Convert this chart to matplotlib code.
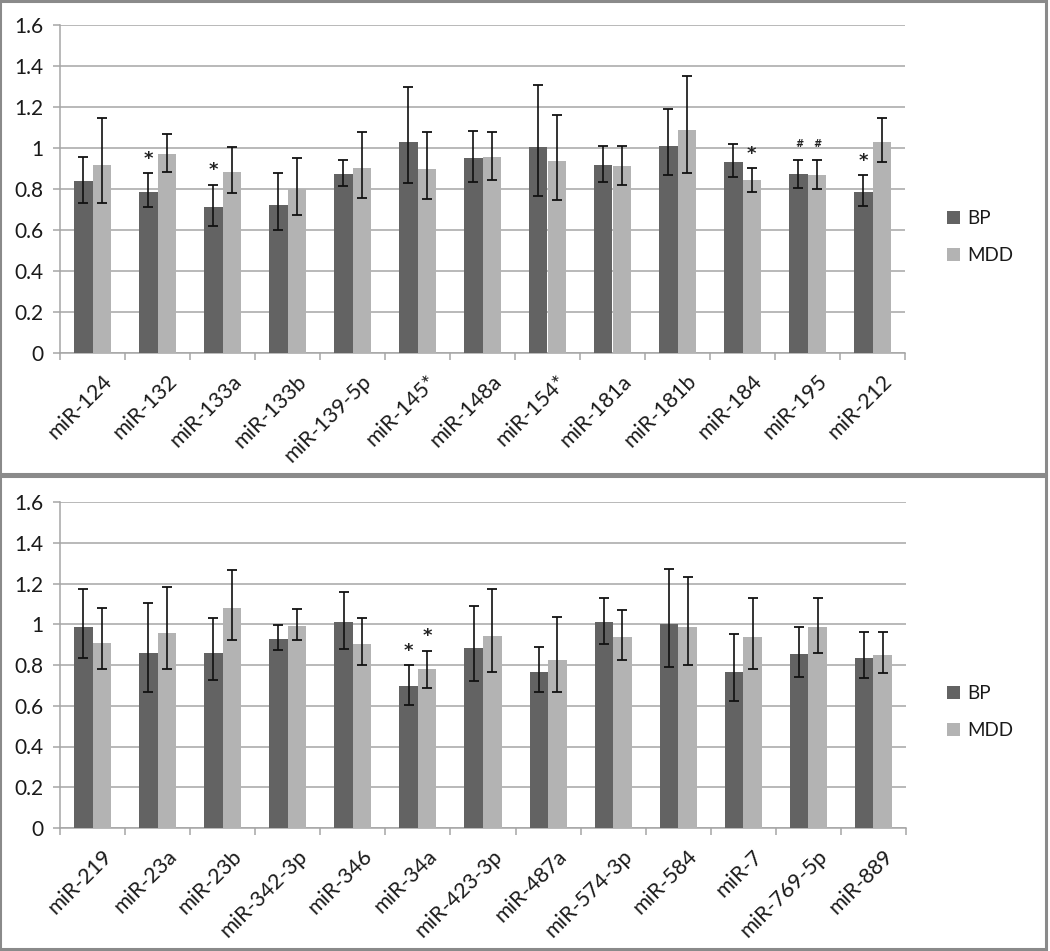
import matplotlib
matplotlib.use("Agg")
import matplotlib.pyplot as plt
import matplotlib.transforms as mtransforms
import numpy as np
from matplotlib.patches import Rectangle

plt.rcParams['font.family'] = ['Lato', 'DejaVu Sans']

# ---------------- data ----------------
cats_top = ["miR-124", "miR-132", "miR-133a", "miR-133b", "miR-139-5p", "miR-145*",
            "miR-148a", "miR-154*", "miR-181a", "miR-181b", "miR-184", "miR-195", "miR-212"]
bp_top = [0.837, 0.785, 0.712, 0.722, 0.873, 1.029, 0.950, 1.003, 0.915, 1.010, 0.930, 0.873, 0.785]
bp_top_hi = [0.956, 0.878, 0.821, 0.878, 0.943, 1.298, 1.085, 1.307, 1.008, 1.190, 1.018, 0.943, 0.867]
bp_top_lo = [0.732, 0.711, 0.621, 0.602, 0.815, 0.828, 0.836, 0.764, 0.836, 0.867, 0.857, 0.803, 0.715]
mdd_top = [0.915, 0.972, 0.883, 0.798, 0.904, 0.899, 0.956, 0.935, 0.911, 1.086, 0.842, 0.868, 1.029]
mdd_top_hi = [1.148, 1.070, 1.003, 0.950, 1.080, 1.080, 1.080, 1.163, 1.008, 1.350, 0.902, 0.943, 1.148]
mdd_top_lo = [0.732, 0.881, 0.779, 0.673, 0.758, 0.751, 0.846, 0.748, 0.821, 0.876, 0.785, 0.798, 0.930]
marks_top = [(1, "BP", "*"), (2, "BP", "*"), (10, "MDD", "*"), (11, "BP", "#"),
             (11, "MDD", "#"), (12, "BP", "*")]

cats_bot = ["miR-219", "miR-23a", "miR-23b", "miR-342-3p", "miR-346", "miR-34a",
            "miR-423-3p", "miR-487a", "miR-574-3p", "miR-584", "miR-7", "miR-769-5p", "miR-889"]
bp_bot = [0.988, 0.857, 0.857, 0.929, 1.009, 0.696, 0.883, 0.767, 1.009, 1.001, 0.767, 0.852, 0.836]
bp_bot_hi = [1.174, 1.102, 1.030, 0.998, 1.158, 0.798, 1.091, 0.888, 1.127, 1.273, 0.950, 0.988, 0.960]
bp_bot_lo = [0.836, 0.669, 0.727, 0.872, 0.878, 0.606, 0.722, 0.668, 0.904, 0.789, 0.622, 0.741, 0.736]
mdd_bot = [0.909, 0.957, 1.081, 0.993, 0.904, 0.779, 0.940, 0.824, 0.936, 0.988, 0.936, 0.988, 0.847]
mdd_bot_hi = [1.081, 1.185, 1.264, 1.074, 1.029, 0.870, 1.174, 1.038, 1.069, 1.233, 1.131, 1.131, 0.960]
mdd_bot_lo = [0.779, 0.779, 0.924, 0.924, 0.798, 0.689, 0.764, 0.668, 0.826, 0.798, 0.782, 0.860, 0.762]
marks_bot = [(5, "BP", "*"), (5, "MDD", "*")]

series = ["BP", "MDD"]
colors = {"BP": "#636363", "MDD": "#b3b3b3"}
yticks = [0, 0.2, 0.4, 0.6, 0.8, 1, 1.2, 1.4, 1.6]
ytick_labels = ["0", "0.2", "0.4", "0.6", "0.8", "1", "1.2", "1.4", "1.6"]

W, H = 1050, 951
fig = plt.figure(figsize=(W / 100, H / 100), dpi=100)
fig.patch.set_facecolor("white")

grid_col = "#a6a6a6"
txt_col = "#1a1a1a"

# panel frames
for (y0, y1) in [(1, 474), (476, 949)]:
    fig.patches.append(Rectangle((0 / W, 1 - y1 / H), 1046 / W, (y1 - y0) / H,
                                 transform=fig.transFigure, fill=False,
                                 edgecolor="#8a8a8a", linewidth=2.2, zorder=0))


def draw_panel(rect, cats, bp, bp_hi, bp_lo, mdd, mdd_hi, mdd_lo, marks, leg_y):
    ax = fig.add_axes(rect)
    n = len(cats)
    x = np.arange(n)
    bw = 0.285
    vals = {"BP": (bp, bp_hi, bp_lo), "MDD": (mdd, mdd_hi, mdd_lo)}
    offs = {"BP": -bw / 2, "MDD": bw / 2}
    handles = []
    for s in series:
        v, hi, lo = [np.array(a) for a in vals[s]]
        h = ax.bar(x + offs[s], v, bw, color=colors[s], zorder=3, label=s)
        handles.append(h)
        ax.errorbar(x + offs[s], v, yerr=[v - lo, hi - v], fmt="none",
                    ecolor="#111111", elinewidth=1.2, capsize=3.4, capthick=1.3, zorder=4)
    for (i, s, sym) in marks:
        top = np.array(vals[s][1])[i]
        if sym == "*":
            ax.text(i + offs[s], top + 0.07, "*", ha="center", va="center",
                    fontsize=13, fontweight="bold", color="#222222", zorder=5,
                    family="DejaVu Sans")
        else:
            ax.text(i + offs[s], top + 0.075, "#", ha="center", va="center",
                    fontsize=7, fontweight="bold", color="#222222", zorder=5,
                    fontstyle="italic", family="DejaVu Sans")
    ax.set_xlim(-0.5, n - 0.5)
    ax.set_ylim(0, 1.6)
    ax.set_yticks(yticks)
    ax.set_yticklabels(ytick_labels)
    ax.yaxis.grid(True, color=grid_col, linewidth=1.1, zorder=0)
    ax.set_axisbelow(True)
    for sp in ["top", "right"]:
        ax.spines[sp].set_visible(False)
    ax.spines["left"].set_color(grid_col)
    ax.spines["bottom"].set_color(grid_col)
    ax.spines["left"].set_linewidth(1.1)
    ax.spines["bottom"].set_linewidth(1.1)
    ax.tick_params(axis="y", length=5, width=1.1, color=grid_col, pad=7,
                   labelsize=15, labelcolor=txt_col)
    ax.set_xticks(x)
    ax.set_xticks(np.arange(n + 1) - 0.5, minor=True)
    ax.tick_params(axis="x", which="major", length=0, pad=13)
    ax.tick_params(axis="x", which="minor", length=5, width=1.1, color=grid_col)
    ax.set_xticklabels(cats, rotation=45, ha="right", rotation_mode="anchor",
                       fontsize=15.5, color=txt_col)
    shift = mtransforms.ScaledTranslation(9 / 100, 0, fig.dpi_scale_trans)
    for lbl in ax.get_xticklabels():
        lbl.set_transform(lbl.get_transform() + shift)
    # legend
    leg = fig.legend(handles, series, loc="center left",
                     bbox_to_anchor=(938 / W, 1 - leg_y / H), frameon=False,
                     fontsize=13.5, handlelength=0.65, handleheight=0.65,
                     handletextpad=0.4, labelspacing=1.05, borderpad=0)
    for t in leg.get_texts():
        t.set_color(txt_col)
    return ax


draw_panel([60 / W, 1 - 353 / H, 845 / W, 328 / H], cats_top, bp_top, bp_top_hi, bp_top_lo,
           mdd_top, mdd_top_hi, mdd_top_lo, marks_top, 237)
draw_panel([60 / W, 1 - 828 / H, 846 / W, 326 / H], cats_bot, bp_bot, bp_bot_hi, bp_bot_lo,
           mdd_bot, mdd_bot_hi, mdd_bot_lo, marks_bot, 712)

fig.savefig("out.png", dpi=100, facecolor="white")
